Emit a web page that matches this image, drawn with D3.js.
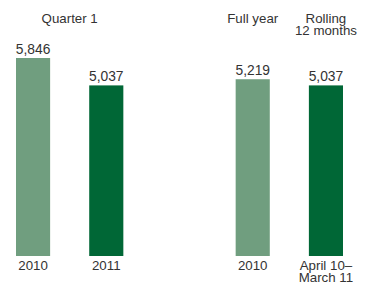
<!DOCTYPE html>
<html>
<head>
<meta charset="utf-8">
<script src="https://cdnjs.cloudflare.com/ajax/libs/d3/7.8.5/d3.min.js"></script>
<style>
  body { margin: 0; background: #fff; }
  #vis { width: 371px; height: 284px; }
</style>
</head>
<body>
<div id="vis"></div>
<script>
// bar values, in order of drawing
var keys = ["q1_2010", "q1_2011", "fy_2010", "rolling"];
var values = [5846, 5037, 5219, 5037];
var valueLabels = ["5,846", "5,037", "5,219", "5,037"];
var bottomLabels = [["2010"], ["2011"], ["2010"], ["April 10\u2013", "March 11"]];
var periods = ["previous", "current", "previous", "current"];

// headers above the bars
var headers = [
    { over: ["q1_2010", "q1_2011"], lines: ["Quarter 1"] },
    { over: ["fy_2010"], lines: ["Full year"] },
    { over: ["rolling"], lines: ["Rolling", "12 months"] }
];

var colors = { previous: "rgb(112, 158, 127)", current: "rgb(0, 103, 54)" };
var font = "'Liberation Sans', Arial, Helvetica, sans-serif";
var fontSize = "13.3px";

var svg = d3.select("#vis")
    .append("svg")
    .attr("width", 371)
    .attr("height", 284);

// an empty slot between the quarter bars and the full year bars
var slots = [keys[0], keys[1], "gap", keys[2], keys[3]];

var x = d3.scaleBand()
    .domain(slots)
    .range([16, 343])
    .paddingInner(0.534)
    .paddingOuter(0);

var y = d3.scaleLinear()
    .domain([0, d3.max(values)])
    .range([256, 58]);

var data = keys.map(function (k, i) {
    return { key: k, value: values[i], label: valueLabels[i], bottom: bottomLabels[i], period: periods[i] };
});

svg.selectAll("rect.bar")
    .data(data)
    .enter()
    .append("rect")
    .attr("class", "bar")
    .attr("x", d => x(d.key))
    .attr("width", x.bandwidth())
    .attr("y", d => y(d.value))
    .attr("height", d => y(0) - y(d.value))
    .attr("fill", d => colors[d.period]);

svg.selectAll("text.value")
    .data(data)
    .enter()
    .append("text")
    .attr("class", "value")
    .attr("x", d => x(d.key) + x.bandwidth() / 2)
    .attr("y", d => y(d.value) - 4.5)
    .attr("text-anchor", "middle")
    .style("font-family", font)
    .style("font-size", "13.8px")
    .attr("fill", "#333")
    .text(d => d.label);

// category labels under the bars
data.forEach(function (d) {
    d.bottom.forEach(function (line, j) {
        svg.append("text")
            .attr("x", x(d.key) + x.bandwidth() / 2)
            .attr("y", y(0) + 13.5 + j * 12)
            .attr("text-anchor", "middle")
            .style("font-family", font)
            .style("font-size", fontSize)
            .attr("fill", "#333")
            .text(line);
    });
});

headers.forEach(function (h) {
    var xs = h.over.map(k => x(k) + x.bandwidth() / 2);
    var cx = d3.mean(xs);
    h.lines.forEach(function (line, j) {
        svg.append("text")
            .attr("x", cx)
            .attr("y", 22.5 + j * 12.5)
            .attr("text-anchor", "middle")
            .style("font-family", font)
            .style("font-size", fontSize)
            .attr("fill", "#333")
            .text(line);
    });
});
</script>
</body>
</html>
